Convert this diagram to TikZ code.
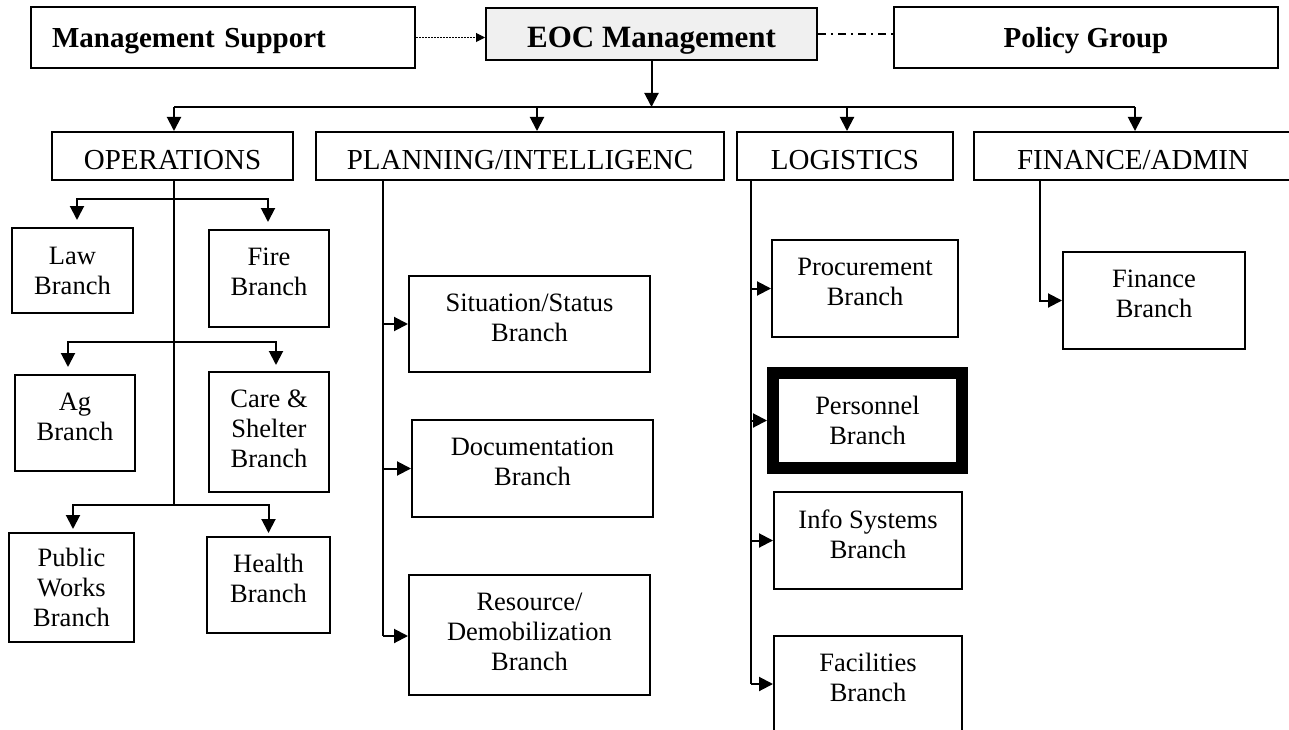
\documentclass[tikz,border=0pt]{standalone}
\usepackage{fontspec}
\setmainfont{Liberation Serif}
\usetikzlibrary{arrows.meta, calc, positioning}

\tikzset{
  box/.style={draw, line width=2pt, inner sep=0pt, align=center, text depth=13pt,
              font=\fontsize{26.5}{30}\selectfont},
  head/.style={draw, line width=2pt, inner sep=0pt, text height=28pt, text depth=0pt,
               font=\fontsize{29}{34}\selectfont},
  chief/.style={draw, line width=2pt, inner sep=0pt, text depth=0pt,
                font=\bfseries\fontsize{29}{34}\selectfont},
  wire/.style={line width=2pt},
  link/.style={line width=2pt, -{Triangle[length=14pt,width=14pt]}},
}

\begin{document}
\begin{tikzpicture}[x=1pt, y=-1pt]
  \useasboundingbox (0, 0) rectangle (1289, 730);
  \clip (0, 0) rectangle (1289, 730);

  % top row
  \node[chief, minimum width=384, minimum height=61, text width=342, align=left] (ms) at (223, 37.5) {Management Support};
  \node[chief, fill=gray!12, minimum width=331, minimum height=52, text height=28pt, font=\bfseries\fontsize{31}{36}\selectfont] (eoc) at (651.5, 34) {EOC Management};
  \node[chief, minimum width=384, minimum height=61] (policy) at (1086, 37.5) {Policy Group};

  % sections
  \node[head, minimum width=241, minimum height=48] (ops) at (172.5, 156) {OPERATIONS};
  \node[head, minimum width=408, minimum height=48] (plan) at (520, 156) {PLANNING/INTELLIGENC};
  \node[head, minimum width=216, minimum height=48] (logi) at (845, 156) {LOGISTICS};
  \node[head, minimum width=318, minimum height=48] (fin) at (1133, 156) {FINANCE/ADMIN};

  % operations branches
  \node[box, minimum width=121, minimum height=85, text depth=0pt] (law) at (72.5, 270.5) {Law\\Branch};
  \node[box, minimum width=120, minimum height=97] (fire) at (269, 278.5) {Fire\\Branch};
  \node[box, minimum width=120, minimum height=96] (ag) at (75, 423) {Ag\\Branch};
  \node[box, minimum width=120, minimum height=120, text depth=7pt] (care) at (269, 432) {Care \&\\Shelter\\Branch};
  \node[box, minimum width=125, minimum height=109, text depth=0pt] (pw) at (71.5, 587.5) {Public\\Works\\Branch};
  \node[box, minimum width=123, minimum height=96] (health) at (268.5, 585) {Health\\Branch};

  % planning branches
  \node[box, minimum width=241, minimum height=96] (sit) at (529.5, 324) {Situation/Status\\Branch};
  \node[box, minimum width=241, minimum height=97] (doc) at (532.5, 468.5) {Documentation\\Branch};
  \node[box, minimum width=241, minimum height=120, text depth=7pt] (res) at (529.5, 635) {Resource/\\Demobilization\\Branch};

  % logistics branches
  \node[box, minimum width=186, minimum height=97] (proc) at (865, 288.5) {Procurement\\Branch};
  \node[box, line width=12pt, minimum width=189, minimum height=95, text depth=0pt] (pers) at (867.5, 420.5) {Personnel\\Branch};
  \node[box, minimum width=188, minimum height=97] (info) at (868, 540.5) {Info Systems\\Branch};
  \node[box, minimum width=188, minimum height=96] (fac) at (868, 684) {Facilities\\Branch};

  % finance branch
  \node[box, minimum width=182, minimum height=97] (finb) at (1154, 300.5) {Finance\\Branch};

  % links of the top row
  \draw[line width=1pt, dash pattern=on 1.5pt off 1.5pt, -{Triangle[length=9pt,width=9pt]}] (ms) -- (ms -| eoc.west);
  \draw[line width=1.5pt, dash pattern=on 8pt off 5pt on 2pt off 5pt] (eoc) -- (eoc -| policy.west);

  \coordinate (b1) at (174, 107);
  \coordinate (b2) at (537, 107);
  \coordinate (b3) at (847, 107);
  \coordinate (b4) at (1135, 107);
  \draw[link] (eoc) -- (eoc |- b1);
  \draw[wire] (b1) -- (b4);
  \foreach \c/\n in {b1/ops, b2/plan, b3/logi, b4/fin}
    \draw[link] (\c) -- (\c |- \n.north);

  % operations tree
  \coordinate (o1) at (174, 199);
  \coordinate (o2) at (174, 342);
  \coordinate (o3) at (174, 505);
  \draw[wire] (ops.south -| o3) -- (o3);
  \draw[link, shorten >=7pt] (o1) -| ([xshift=4.5pt]law.north);
  \draw[link, shorten >=7pt] (o1) -| ([xshift=-1pt]fire.north);
  \draw[link, shorten >=7pt] (o2) -| ([xshift=-7pt]ag.north);
  \draw[link, shorten >=6pt] (o2) -| ([xshift=7pt]care.north);
  \draw[link, shorten >=3pt] (o3) -| ([xshift=1.5pt]pw.north);
  \draw[link, shorten >=3pt] (o3) -| (health.north);

  % planning tree
  \coordinate (pend) at (383, 636);
  \draw[wire] (plan.south -| pend) -- (pend);
  \draw[link] (pend |- sit) -- (sit);
  \draw[link] (pend |- doc) -- (doc);
  \draw[link] (pend) -- (pend -| res.west);

  % logistics tree
  \coordinate (lend) at (751, 684);
  \draw[wire] (logi.south -| lend) -- (lend);
  \draw[link] (lend |- proc) -- (proc);
  \draw[link] (lend |- pers) -- (pers);
  \draw[link] (lend |- info) -- (info);
  \draw[link] (lend) -- (fac);

  % finance tree
  \coordinate (ftop) at (1040, 180);
  \draw[link] (ftop) |- (finb);
\end{tikzpicture}
\end{document}
